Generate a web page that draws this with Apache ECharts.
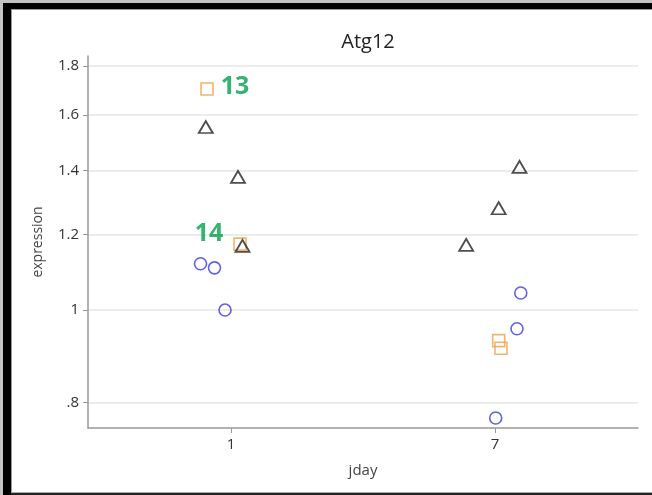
<!DOCTYPE html>
<html>
<head>
<meta charset="utf-8">
<script src="https://cdn.jsdelivr.net/npm/echarts@6/dist/echarts.min.js"></script>
<style>
html,body{margin:0;padding:0;background:#fff;}
#chart{width:652px;height:495px;}
</style>
</head>
<body>
<div id="chart"></div>
<script>
// ---- data ----
const titleText = 'Atg12';
const xTickValues = [1, 7];
const xTickLabels = ['1', '7'];
const yTickValues = [0.8, 1, 1.2, 1.4, 1.6, 1.8];
const yTickLabels = ['.8', '1', '1.2', '1.4', '1.6', '1.8'];
const xRange = [-2.25, 10.25];
const yRange = [0.7527, 1.844];

// jittered jday positions and expression values
const circleX = [0.307, 0.625, 0.864, 7.016, 7.5, 7.586];
const circleY = [1.118, 1.107, 1.000, 0.771, 0.956, 1.042];
const triangleX = [0.427, 1.159, 1.261, 6.345, 7.084, 7.557];
const triangleY = [1.554, 1.378, 1.167, 1.170, 1.278, 1.412];
const squareX = [0.455, 1.205, 7.084, 7.136];
const squareY = [1.703, 1.172, 0.929, 0.912];
const squareNotes = ['13', '14', '', ''];

// ---- build ----
const L = Math.log;
const toPts = (xs, ys) => xs.map((x, i) => [x, L(ys[i])]);
const noteStyle = {
  '13': { position: 'right', distance: 7, offset: [0, -2] },
  '14': { position: 'left', distance: 10, offset: [0, -10] }
};
const squareData = squareX.map((x, i) => {
  const d = { value: [x, L(squareY[i])] };
  const n = squareNotes[i];
  if (n) {
    d.label = Object.assign({
      show: true, formatter: n, color: '#00a14b', fontSize: 25,
      fontWeight: 'bold', fontFamily: 'Open Sans'
    }, noteStyle[n] || {});
  }
  return d;
});

const chart = echarts.init(document.getElementById('chart'), null, { renderer: 'canvas' });
const fontF = 'Open Sans';
chart.setOption({
  animation: false,
  backgroundColor: '#ffffff',
  title: {
    text: titleText, left: 363, textAlign: 'center', top: 27,
    textStyle: { fontFamily: fontF, fontSize: 20, fontWeight: 'normal', color: '#222' }
  },
  graphic: [
    { type: 'rect', shape: { x: 0, y: 0, width: 3, height: 495 }, style: { fill: '#c3c3c3' }, silent: true },
    { type: 'rect', shape: { x: 0, y: 0, width: 652, height: 3 }, style: { fill: '#c3c3c3' }, silent: true },
    { type: 'rect', shape: { x: 3, y: 3, width: 8, height: 492 }, style: { fill: '#000' }, silent: true },
    { type: 'rect', shape: { x: 3, y: 3, width: 649, height: 6 }, style: { fill: '#000' }, silent: true },
    { type: 'rect', shape: { x: 11, y: 9, width: 641, height: 1 }, style: { fill: '#999' }, silent: true },
    { type: 'rect', shape: { x: 11, y: 9, width: 1, height: 486 }, style: { fill: '#999' }, silent: true },
    { type: 'rect', shape: { x: 11, y: 492, width: 641, height: 1 }, style: { fill: '#aaa' }, silent: true },
    { type: 'rect', shape: { x: 11, y: 493, width: 641, height: 2 }, style: { fill: '#222' }, silent: true }
  ],
  grid: { left: 88, right: 14, top: 56, bottom: 67, containLabel: false },
  xAxis: {
    type: 'value', min: xRange[0], max: xRange[1],
    name: 'jday', nameLocation: 'middle', nameGap: 35,
    nameTextStyle: { fontFamily: fontF, fontSize: 15, color: '#444' },
    axisLine: { show: true, onZero: false, lineStyle: { color: '#999', width: 1.5 } },
    axisTick: { show: true, customValues: xTickValues, length: 5, lineStyle: { color: '#999' } },
    axisLabel: {
      customValues: xTickValues, margin: 9,
      fontFamily: fontF, fontSize: 15, color: '#333',
      formatter: v => xTickLabels[xTickValues.findIndex(t => Math.abs(t - v) < 1e-6)] ?? ''
    },
    splitLine: { show: false }
  },
  yAxis: {
    type: 'value', min: L(yRange[0]), max: L(yRange[1]),
    name: 'expression', nameLocation: 'middle', nameGap: 43, nameRotate: 90,
    nameTextStyle: { fontFamily: fontF, fontSize: 14, color: '#444' },
    axisLine: { show: true, onZero: false, lineStyle: { color: '#999', width: 1.5 } },
    axisTick: { show: true, customValues: yTickValues.map(L), length: 5, lineStyle: { color: '#999' } },
    axisLabel: {
      customValues: yTickValues.map(L), margin: 9,
      fontFamily: fontF, fontSize: 15, color: '#333',
      formatter: v => {
        let bi = 0, bd = Infinity;
        yTickValues.forEach((t, i) => { const d = Math.abs(L(t) - v); if (d < bd) { bd = d; bi = i; } });
        return yTickLabels[bi];
      }
    },
    splitLine: { show: true, lineStyle: { color: '#e6e6e6', width: 1.5 } }
  },
  series: [
    {
      type: 'scatter', data: toPts(circleX, circleY), symbol: 'circle', symbolSize: 12,
      itemStyle: { color: 'rgba(0,0,0,0)', borderColor: '#3a3ae0', borderWidth: 1.6 }
    },
    {
      type: 'scatter', data: squareData, symbol: 'rect', symbolSize: 12,
      itemStyle: { color: 'rgba(0,0,0,0)', borderColor: '#f0a048', borderWidth: 1.6 }
    },
    {
      type: 'scatter', data: toPts(triangleX, triangleY), symbol: 'triangle', symbolSize: [14, 12],
      itemStyle: { color: 'rgba(0,0,0,0)', borderColor: '#222', borderWidth: 1.8 }
    }
  ]
});
</script>
</body>
</html>
